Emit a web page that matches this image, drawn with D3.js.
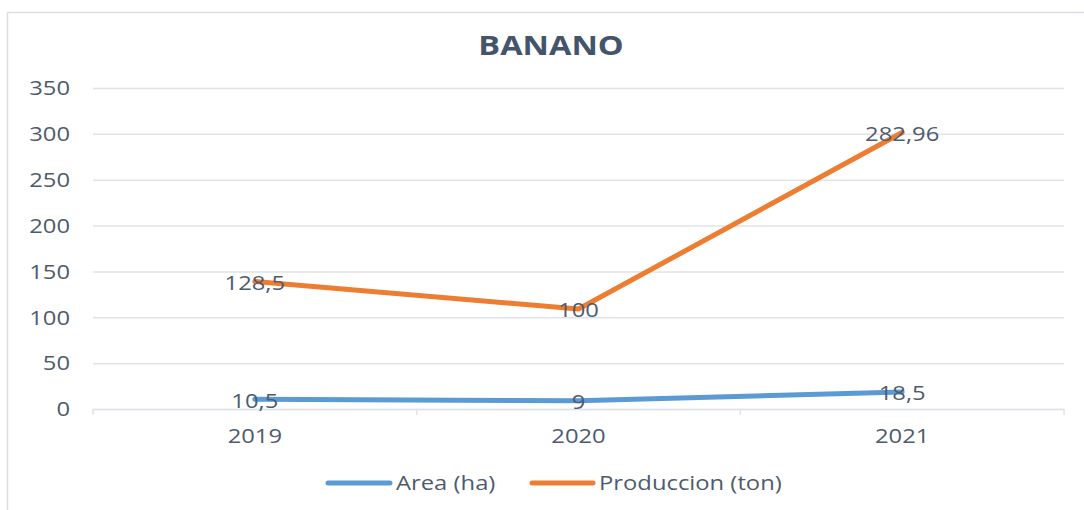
<!DOCTYPE html>
<html>
<head>
<meta charset="utf-8">
<script src="https://cdn.jsdelivr.net/npm/d3@7"></script>
<style>
  html, body { margin: 0; padding: 0; background: #ffffff; }
  svg { display: block; }
  text { font-family: "Open Sans", "Liberation Sans", sans-serif; }
</style>
</head>
<body>
<svg id="chart" width="1084" height="510"></svg>
<script>
// ---- data ----
const title = "BANANO";
const categories = ["2019", "2020", "2021"];
const seriesNames = ["Area (ha)", "Produccion (ton)"];
const areaValues = [10.5, 9, 18.5];
const produccionValues = [128.5, 100, 282.96];
const yTickValues = [0, 50, 100, 150, 200, 250, 300, 350];

// ---- styling ----
const colors = ["#5b9bd5", "#ed7d31"];
const textColor = "#4f5b6d";
const titleColor = "#44546a";
const gridColor = "#dfe3ea";
const SX = 1.22; // horizontal stretch of text

const svg = d3.select("#chart");
const W = 1084, H = 510;
const plot = { left: 93, right: 1064, top: 88, bottom: 409 };

// chart frame
svg.append("rect")
  .attr("x", 7.5).attr("y", 12.5)
  .attr("width", 1120).attr("height", 600)
  .attr("fill", "#ffffff")
  .attr("stroke", "#dadfe7").attr("stroke-width", 1.5);

// table for stacking
const table = categories.map((c, i) => ({
  cat: c,
  [seriesNames[0]]: areaValues[i],
  [seriesNames[1]]: produccionValues[i]
}));
const stacked = d3.stack().keys(seriesNames)(table);

const x = d3.scaleBand().domain(categories).range([plot.left, plot.right]);
const y = d3.scaleLinear().domain([0, 350]).range([plot.bottom, plot.top]);

// title
svg.append("text")
  .attr("transform", `translate(551,55) scale(1.25,1)`)
  .attr("text-anchor", "middle")
  .attr("font-size", 26)
  .attr("font-weight", "bold")
  .attr("fill", titleColor)
  .text(title);

// y axis with gridlines
const yAxis = d3.axisLeft(y)
  .tickValues(yTickValues)
  .tickSize(-(plot.right - plot.left))
  .tickPadding(0)
  .tickFormat(d3.format("d"));
const gy = svg.append("g")
  .attr("transform", `translate(${plot.left},0)`)
  .call(yAxis);
gy.select(".domain").remove();
gy.selectAll(".tick line")
  .attr("stroke", gridColor)
  .attr("stroke-width", 1.5);
gy.selectAll(".tick text")
  .attr("x", 0).attr("dy", 0)
  .attr("transform", `translate(-23,0) scale(${SX},1)`)
  .attr("dy", "0.35em")
  .attr("font-size", 19.5)
  .attr("fill", textColor);

// x axis
const xAxis = d3.axisBottom(x).tickSize(0).tickPadding(0);
const gx = svg.append("g")
  .attr("transform", `translate(0,${plot.bottom})`)
  .call(xAxis);
gx.select(".domain")
  .attr("stroke", gridColor)
  .attr("stroke-width", 1.5);
gx.selectAll(".tick text")
  .attr("y", 0).attr("dy", 0)
  .attr("transform", `translate(0,34) scale(${SX},1)`)
  .attr("font-size", 19.5)
  .attr("fill", textColor);
// boundary tick marks
const boundaries = categories.map(c => x(c)).concat([x(categories[categories.length - 1]) + x.bandwidth()]);
gx.selectAll(".bnd")
  .data(boundaries)
  .enter().append("line")
  .attr("class", "bnd")
  .attr("x1", d => d).attr("x2", d => d)
  .attr("y1", 0).attr("y2", 6)
  .attr("stroke", gridColor)
  .attr("stroke-width", 1.5);

// lines
const cx = d => x(d.data.cat) + x.bandwidth() / 2;
const line = d3.line().x(cx).y(d => y(d[1]));
svg.selectAll(".series")
  .data(stacked)
  .enter().append("path")
  .attr("class", "series")
  .attr("d", line)
  .attr("fill", "none")
  .attr("stroke", (d, i) => colors[i])
  .attr("stroke-width", 5)
  .attr("stroke-linecap", "round")
  .attr("stroke-linejoin", "round");

// data labels
const fmt = v => String(v).replace(".", ",");
stacked.forEach((s, si) => {
  svg.selectAll(".lbl" + si)
    .data(s)
    .enter().append("text")
    .attr("class", "lbl" + si)
    .attr("transform", d => `translate(${cx(d)},${y(d[1]) + 1.5}) scale(${SX},1)`)
    .attr("text-anchor", "middle")
    .attr("dy", "0.35em")
    .attr("font-size", 19.5)
    .attr("fill", textColor)
    .text(d => fmt(d.data[s.key]));
});

// legend
const legendItems = [
  { name: seriesNames[0], color: colors[0], x0: 328, x1: 390, tx: 396 },
  { name: seriesNames[1], color: colors[1], x0: 532, x1: 593, tx: 599 }
];
const lg = svg.append("g");
legendItems.forEach(it => {
  lg.append("line")
    .attr("x1", it.x0).attr("x2", it.x1)
    .attr("y1", 483).attr("y2", 483)
    .attr("stroke", it.color)
    .attr("stroke-width", 5)
    .attr("stroke-linecap", "round");
  lg.append("text")
    .attr("transform", `translate(${it.tx},490) scale(${SX},1)`)
    .attr("font-size", 19.5)
    .attr("fill", textColor)
    .text(it.name);
});
</script>
</body>
</html>
